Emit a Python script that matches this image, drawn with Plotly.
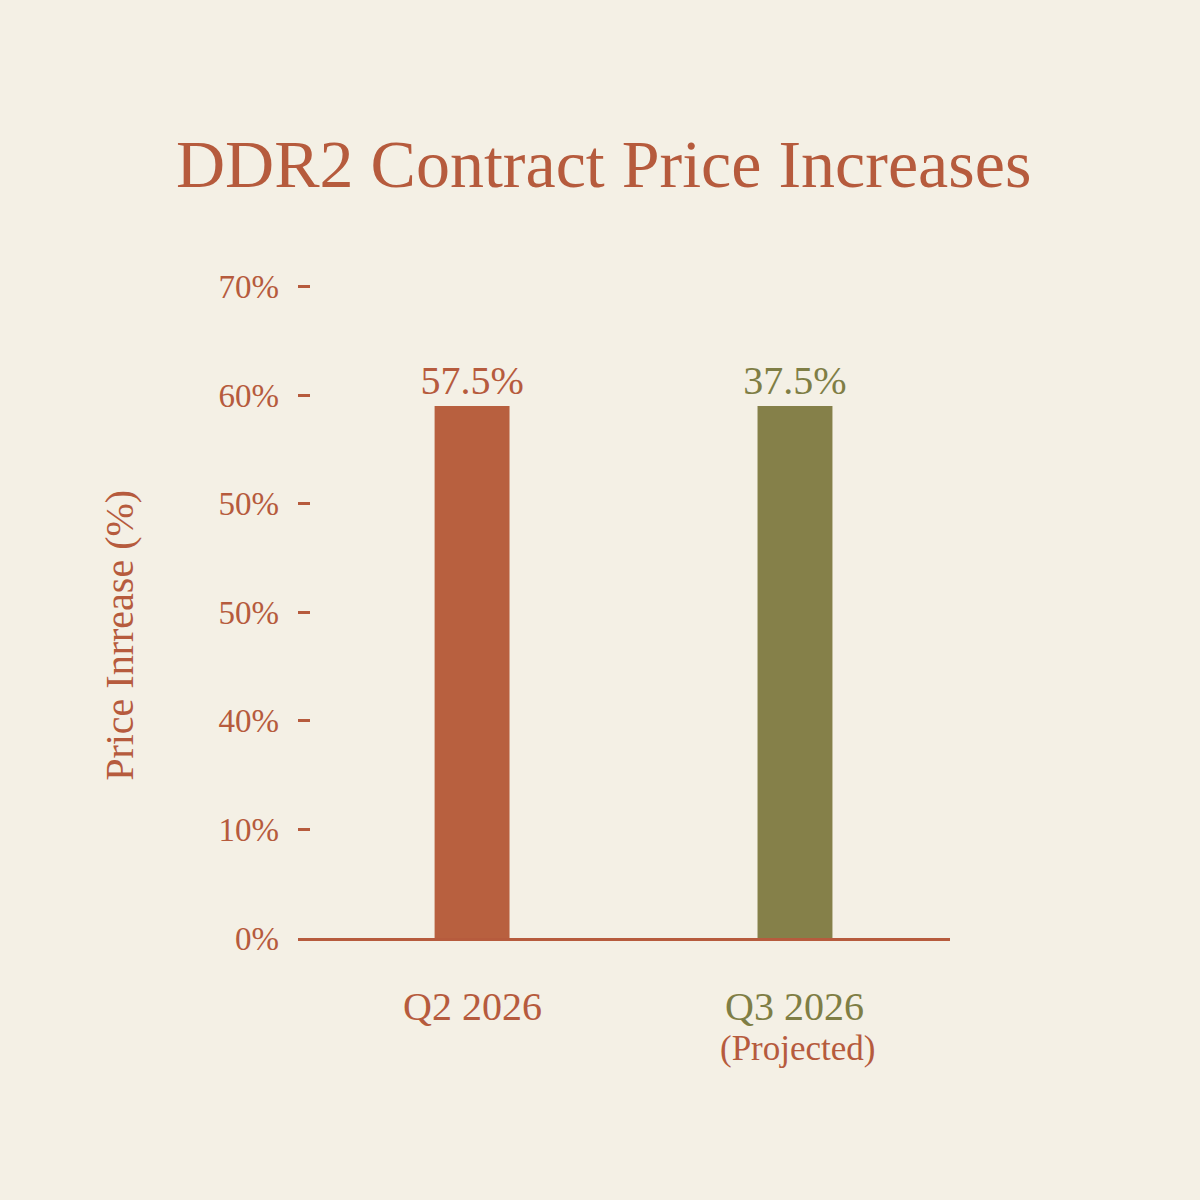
import plotly.graph_objects as go

# ---- data ----
categories = ["Q2 2026", "Q3 2026"]
bar_heights = [49, 49]                 # drawn bar heights in axis units (as pictured)
value_labels = ["57.5%", "37.5%"]      # labels shown above bars
sub_labels = ["", "(Projected)"]
y_tickvals = [0, 10, 20, 30, 40, 50, 60]
y_ticktext = ["0%", "10%", "40%", "50%", "50%", "60%", "70%"]

RED = "#B65B3D"
RED_BAR = "#B8603F"
OLIVE_BAR = "#858049"
OLIVE_TXT = "#7F7E45"
BG = "#F4F0E5"
FONT = "Liberation Serif"

bar_colors = [RED_BAR, OLIVE_BAR]
text_colors = [RED, OLIVE_TXT]

fig = go.Figure()
fig.add_trace(go.Bar(
    x=categories, y=bar_heights,
    marker=dict(color=bar_colors, line=dict(width=0)),
    width=0.232,
    text=value_labels, textposition="outside", constraintext="none",
    textfont=dict(family=FONT, size=40, color=text_colors),
    cliponaxis=False,
    hoverinfo="skip",
))

annotations = [
    dict(text="DDR2 Contract Price Increases", xref="paper", yref="paper",
         x=0.468, y=1, yshift=101, yanchor="middle", xanchor="center", showarrow=False,
         font=dict(family=FONT, size=68, color=RED)),
]
# category labels below axis
for i, c in enumerate(categories):
    annotations.append(dict(text=c, xref="x", yref="paper", x=c, y=0,
                            yanchor="middle", yshift=-68, showarrow=False,
                            font=dict(family=FONT, size=40, color=text_colors[i])))
    if sub_labels[i]:
        annotations.append(dict(text=sub_labels[i], xref="x", yref="paper", x=c, y=0,
                                xshift=3, yanchor="middle", yshift=-110, showarrow=False,
                                font=dict(family=FONT, size=35, color=RED)))
# y-axis title
annotations.append(dict(text="Price Inrrease (%)", xref="paper", yref="paper",
                        x=0, xshift=-178, y=0.449, textangle=-90, showarrow=False,
                        xanchor="center", yanchor="middle",
                        font=dict(family=FONT, size=40, color=RED)))

fig.update_layout(
    width=1200, height=1200,
    paper_bgcolor=BG, plot_bgcolor=BG,
    margin=dict(l=298, r=250, t=265, b=262),
    showlegend=False,
    annotations=annotations,
    xaxis=dict(type="category", range=[-0.539, 1.48], showgrid=False, zeroline=False,
               showline=True, linecolor=RED, linewidth=3, showticklabels=False, ticks=""),
    yaxis=dict(range=[0, 62], tickvals=y_tickvals, ticktext=y_ticktext,
               ticks="inside", ticklen=12, tickwidth=3, tickcolor=RED,
               showgrid=False, zeroline=False, showline=False,
               ticklabelstandoff=18,
               tickfont=dict(family=FONT, size=33, color=RED)),
)

fig.write_html("out.html")
